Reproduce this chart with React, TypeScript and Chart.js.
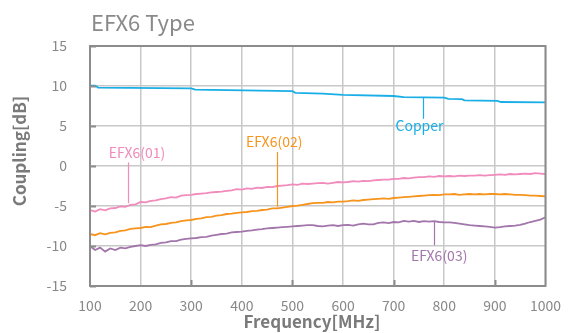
import React, { useEffect, useRef } from "react";
import { Chart, registerables } from "chart.js";

Chart.register(...registerables);

const FREQ = [
  100, 110, 120, 130, 140, 150, 160, 170, 180, 190,
  200, 210, 220, 230, 240, 250, 260, 270, 280, 290,
  300, 310, 320, 330, 340, 350, 360, 370, 380, 390,
  400, 410, 420, 430, 440, 450, 460, 470, 480, 490,
  500, 510, 520, 530, 540, 550, 560, 570, 580, 590,
  600, 610, 620, 630, 640, 650, 660, 670, 680, 690,
  700, 710, 720, 730, 740, 750, 760, 770, 780, 790,
  800, 810, 820, 830, 840, 850, 860, 870, 880, 890,
  900, 910, 920, 930, 940, 950, 960, 970, 980, 990, 1000,
];

const EFX6_01 = [
  -5.5, -5.7, -5.4, -5.55, -5.3, -5.25, -5.05, -5.1, -4.85, -4.8,
  -4.5, -4.55, -4.35, -4.3, -4.15, -4.05, -3.9, -3.95, -3.7, -3.65,
  -3.6, -3.5, -3.45, -3.4, -3.3, -3.25, -3.2, -3.1, -3.05, -2.9,
  -2.95, -2.8, -2.85, -2.7, -2.75, -2.6, -2.65, -2.5, -2.45, -2.4,
  -2.3, -2.35, -2.2, -2.25, -2.2, -2.15, -2.1, -2.2, -2.1, -2.0,
  -2.05, -2.0, -1.9, -1.95, -1.85, -1.9, -1.8, -1.75, -1.7, -1.7,
  -1.6, -1.6, -1.5, -1.55, -1.45, -1.4, -1.4, -1.3, -1.35, -1.25,
  -1.3, -1.25, -1.3, -1.2, -1.25, -1.2, -1.2, -1.15, -1.2, -1.15,
  -1.1, -1.05, -1.1, -1.0, -1.05, -1.0, -0.95, -1.0, -0.9, -0.95, -1.0,
];

const EFX6_02 = [
  -8.5, -8.65, -8.4, -8.55, -8.35, -8.3, -8.1, -8.05, -7.85, -7.8,
  -7.75, -7.6, -7.65, -7.45, -7.3, -7.25, -7.1, -7.05, -6.9, -6.8,
  -6.75, -6.6, -6.55, -6.4, -6.35, -6.2, -6.15, -6.0, -5.95, -5.85,
  -5.8, -5.75, -5.65, -5.6, -5.5, -5.45, -5.3, -5.3, -5.2, -5.1,
  -5.0, -4.95, -4.85, -4.75, -4.65, -4.6, -4.6, -4.5, -4.55, -4.45,
  -4.45, -4.4, -4.3, -4.35, -4.25, -4.2, -4.15, -4.1, -4.05, -4.1,
  -4.0, -3.95, -3.9, -3.85, -3.8, -3.75, -3.7, -3.65, -3.6, -3.65,
  -3.55, -3.55, -3.5, -3.6, -3.55, -3.5, -3.55, -3.5, -3.55, -3.5,
  -3.5, -3.55, -3.5, -3.55, -3.6, -3.6, -3.65, -3.7, -3.7, -3.75, -3.8,
];

const EFX6_03 = [
  -10.0, -10.5, -10.2, -10.7, -10.3, -10.5, -10.2, -10.3, -10.1, -10.0,
  -9.9, -10.0, -9.85, -9.8, -9.6, -9.55, -9.4, -9.4, -9.2, -9.1,
  -9.05, -9.0, -8.9, -8.85, -8.7, -8.6, -8.5, -8.45, -8.3, -8.25,
  -8.2, -8.1, -8.05, -7.95, -7.9, -7.8, -7.75, -7.7, -7.65, -7.6,
  -7.55, -7.5, -7.45, -7.4, -7.4, -7.5, -7.55, -7.45, -7.4, -7.5,
  -7.4, -7.35, -7.45, -7.3, -7.2, -7.3, -7.3, -7.1, -7.05, -7.15,
  -7.0, -7.05, -6.85, -6.95, -6.85, -7.0, -6.9, -6.95, -6.9, -7.0,
  -7.05, -7.05, -7.1, -7.2, -7.3, -7.4, -7.45, -7.5, -7.55, -7.6,
  -7.7, -7.65, -7.55, -7.5, -7.45, -7.35, -7.2, -7.0, -6.85, -6.7, -6.4,
];

const COPPER_FREQ = [100, 110, 116, 300, 308, 500, 506, 560, 600, 700, 720, 800, 808, 835, 840, 905, 912, 1000];
const COPPER = [10.05, 10.05, 9.8, 9.7, 9.55, 9.35, 9.15, 9.05, 8.9, 8.75, 8.6, 8.55, 8.4, 8.35, 8.2, 8.15, 8.0, 7.95];

const X_TICKS = [100, 200, 300, 400, 500, 600, 700, 800, 900, 1000];
const Y_TICKS = [-15, -10, -5, 0, 5, 10, 15];
const X_INNER_TICKS = [300, 500, 700, 900];

const LABELS = ["EFX6(01)", "EFX6(02)", "Copper", "EFX6(03)"];
const LABEL_FREQ = [193, 464, 751, 790];
const LABEL_VALUE = [1.7, 3.05, 5.0, -11.25];
const LEADER_FREQ = [175, 469, 759, 779];
const LEADER_TOP = [0.45, 1.75, 8.55, -6.95];
const LEADER_BOTTOM = [-4.65, -5.1, 5.9, -9.9];

const COLORS = ["#f08bbb", "#f7941d", "#1aaee6", "#a276ab"];
const FONT = '"Noto Sans CJK JP", "Noto Sans", sans-serif';

const pts = (xs: number[], ys: number[]) => xs.map((x, i) => ({ x, y: ys[i] }));

const decorations = {
  id: "decorations",
  afterDraw(chart: any) {
    const { ctx, chartArea, scales } = chart;
    const { left, right, top, bottom } = chartArea;
    const x = scales.x;
    const y = scales.y;
    ctx.save();
    ctx.strokeStyle = "#8c8c8c";
    ctx.lineWidth = 2;
    ctx.strokeRect(left, top, right - left, bottom - top);
    Y_TICKS.forEach((v) => {
      const py = Math.round(y.getPixelForValue(v)) + 0.5;
      ctx.beginPath();
      ctx.moveTo(left, py);
      ctx.lineTo(left + 6, py);
      ctx.stroke();
    });
    X_INNER_TICKS.forEach((v) => {
      const px = Math.round(x.getPixelForValue(v)) + 0.5;
      ctx.beginPath();
      ctx.moveTo(px, bottom);
      ctx.lineTo(px, bottom - 6);
      ctx.stroke();
    });
    ctx.lineWidth = 1.2;
    ctx.font = `14px ${FONT}`;
    ctx.textAlign = "center";
    ctx.textBaseline = "middle";
    LABELS.forEach((t, i) => {
      const c = COLORS[i];
      ctx.strokeStyle = c;
      ctx.fillStyle = c;
      const lx = Math.round(x.getPixelForValue(LEADER_FREQ[i])) + 0.5;
      ctx.beginPath();
      ctx.moveTo(lx, y.getPixelForValue(LEADER_TOP[i]));
      ctx.lineTo(lx, y.getPixelForValue(LEADER_BOTTOM[i]));
      ctx.stroke();
      ctx.fillText(t, x.getPixelForValue(LABEL_FREQ[i]), y.getPixelForValue(LABEL_VALUE[i]));
    });
    ctx.fillStyle = "#8a8a8a";
    ctx.textAlign = "left";
    ctx.textBaseline = "alphabetic";
    ctx.font = `22px ${FONT}`;
    ctx.fillText("EFX6 Type", 91, 31);
    ctx.fillStyle = "#7a7a7a";
    ctx.font = `bold 17px ${FONT}`;
    ctx.textAlign = "center";
    ctx.textBaseline = "middle";
    ctx.fillText("Frequency[MHz]", 312, 322);
    ctx.translate(20, 151);
    ctx.rotate(-Math.PI / 2);
    ctx.fillText("Coupling[dB]", 0, 0);
    ctx.restore();
  },
};

export default function App() {
  const ref = useRef<HTMLCanvasElement | null>(null);
  useEffect(() => {
    if (!ref.current) return;
    const mk = (label: string, data: any[], color: string) => ({
      label,
      data,
      borderColor: color,
      backgroundColor: color,
      borderWidth: 1.8,
      pointRadius: 0,
      tension: 0,
      fill: false,
    });
    const chart = new Chart(ref.current, {
      type: "line",
      data: {
        datasets: [
          mk("Copper", pts(COPPER_FREQ, COPPER), COLORS[2]),
          mk("EFX6(01)", pts(FREQ, EFX6_01), COLORS[0]),
          mk("EFX6(02)", pts(FREQ, EFX6_02), COLORS[1]),
          mk("EFX6(03)", pts(FREQ, EFX6_03), COLORS[3]),
        ],
      },
      options: {
        animation: false,
        responsive: false,
        layout: { padding: { top: 46, right: 26, left: 0, bottom: 0 } },
        plugins: { legend: { display: false }, tooltip: { enabled: false }, title: { display: false } },
        scales: {
          x: {
            type: "linear",
            min: 100,
            max: 1000,
            afterBuildTicks: (s: any) => {
              s.ticks = X_TICKS.map((v) => ({ value: v }));
            },
            afterFit: (s: any) => {
              s.height = 47;
            },
            ticks: {
              color: "#888",
              font: { family: FONT, size: 14 },
              padding: 11,
              maxRotation: 0,
              autoSkip: false,
              callback: (v: any) => String(v),
            },
            grid: { color: "#c8c8c8", lineWidth: 1.5, drawTicks: false },
            border: { display: false },
          },
          y: {
            min: -15,
            max: 15,
            afterBuildTicks: (s: any) => {
              s.ticks = Y_TICKS.map((v) => ({ value: v }));
            },
            afterFit: (s: any) => {
              s.width = 90;
            },
            ticks: { color: "#888", font: { family: FONT, size: 14 }, padding: 23, callback: (v: any) => String(v) },
            grid: { color: "#c8c8c8", lineWidth: 1.5, drawTicks: false },
            border: { display: false },
          },
        },
      },
      plugins: [decorations],
    });
    return () => chart.destroy();
  }, []);
  return (
    <div style={{ position: "absolute", left: 0, top: 0, width: 572, height: 333, background: "#fff" }}>
      <canvas ref={ref} width={572} height={333} />
    </div>
  );
}
